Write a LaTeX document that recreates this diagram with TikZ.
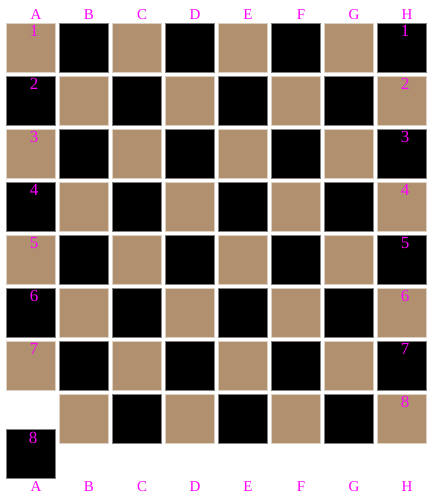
\documentclass[tikz,border=0pt]{standalone}
\usepackage{fontspec}
\setmainfont{Liberation Serif}
\usepackage{tikz}
\usetikzlibrary{positioning}

\definecolor{boardtan}{RGB}{176,144,111}
\definecolor{tanedge}{RGB}{222,210,196}
\definecolor{darkedge}{RGB}{128,128,128}
\definecolor{labelpink}{RGB}{255,0,255}

\begin{document}
\begin{tikzpicture}[x=1pt,y=-1pt,
    sqtan/.style={fill=boardtan,draw=tanedge,line width=1pt,minimum size=49pt,inner sep=0pt},
    sqdark/.style={fill=black,draw=darkedge,line width=1pt,minimum size=49pt,inner sep=0pt},
    filelbl/.style={text=labelpink,font=\fontsize{15}{18}\selectfont,inner sep=0pt},
    ranklbl/.style={text=labelpink,font=\fontsize{17}{20}\selectfont,inner sep=0pt}]

\useasboundingbox (0,0) rectangle (439,502);

\def\P{53}   % pitch of the squares

% File letters, top and bottom
\foreach \f [count=\i from 0] in {A,B,C,D,E,F,G,H}{
    \node[filelbl] (top\f) at (36+\i*\P,15)    {\f};
    \node[filelbl] (bot\f) at (36+\i*\P,486.5) {\f};
}

% Ranks 1 to 7
\foreach \r in {1,...,7}{
    \foreach \f [count=\i from 0] in {A,B,C,D,E,F,G,H}{
        \pgfmathtruncatemacro{\odd}{mod(\i+\r,2)}
        \ifnum\odd=1
            \node[sqtan]  (\f\r) at (31+\i*\P,48+\r*\P-\P) {};
        \else
            \node[sqdark] (\f\r) at (31+\i*\P,48+\r*\P-\P) {};
        \fi
    }
    \node[ranklbl] (numA\r) at (34,31+\r*\P-\P)  {\r};
    \node[ranklbl] (numH\r) at (405,31+\r*\P-\P) {\r};
}

% Rank 8 (A square dropped below)
\foreach \f [count=\i from 1] in {B,C,D,E,F,G,H}{
    \pgfmathtruncatemacro{\odd}{mod(\i,2)}
    \ifnum\odd=1
        \node[sqtan]  (\f8) at (31+\i*\P,419) {};
    \else
        \node[sqdark] (\f8) at (31+\i*\P,419) {};
    \fi
}
\node[sqdark] (A8) at (31,454) {};
\node[ranklbl] (numA8) at (33,437.5) {8};
\node[ranklbl] (numH8) at (405,402)  {8};

\end{tikzpicture}
\end{document}
